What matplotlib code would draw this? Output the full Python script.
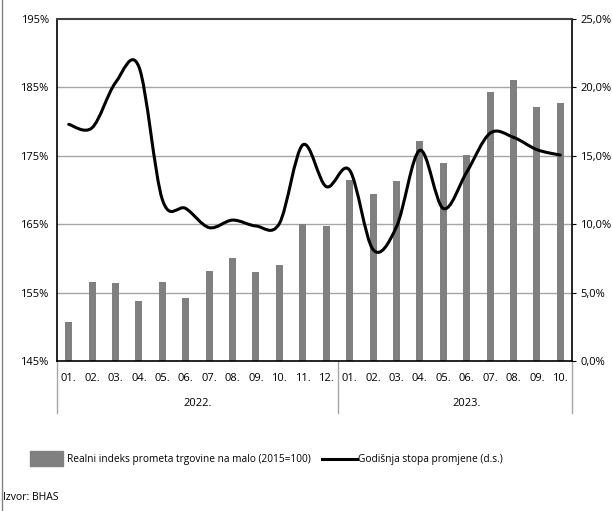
import numpy as np
import matplotlib
matplotlib.use("Agg")
import matplotlib.pyplot as plt
from matplotlib.path import Path
from matplotlib.patches import PathPatch, Rectangle
from matplotlib.lines import Line2D
import matplotlib.transforms as mtransforms

plt.rcParams['font.family'] = ['Open Sans', 'DejaVu Sans']

# podaci
mjeseci = ["01.", "02.", "03.", "04.", "05.", "06.", "07.", "08.", "09.", "10.", "11.", "12.",
           "01.", "02.", "03.", "04.", "05.", "06.", "07.", "08.", "09.", "10."]
godine = ["2022.", "2023."]
indeks = [150.7, 156.6, 156.4, 153.7, 156.5, 154.2, 158.2, 160.0, 158.0, 159.0, 165.1, 164.8,
          171.5, 169.4, 171.3, 177.1, 173.9, 175.1, 184.3, 186.1, 182.1, 182.7]
stopa = [17.3, 17.05, 20.35, 21.5, 11.8, 11.15, 9.75, 10.3, 9.87, 10.05, 15.8, 12.75,
         13.95, 8.15, 9.8, 15.4, 11.15, 13.8, 16.65, 16.35, 15.45, 15.05]

W, H = 612, 511
fig = plt.figure(figsize=(W / 100, H / 100), dpi=100)
L, R, T, B = 57, 572, 19, 361
ax = fig.add_axes([L / W, 1 - B / H, (R - L) / W, (B - T) / H])

x = np.arange(len(indeks))
ax.bar(x, np.array(indeks) - 145, bottom=145, width=0.3, color="#808080", zorder=2)
ax.set_xlim(-0.5, len(indeks) - 0.5)
ax.set_ylim(145, 195)
ax.set_yticks(np.arange(145, 196, 10))
ax.set_yticklabels([f"{v}%" for v in range(145, 196, 10)], fontsize=8)
ax.tick_params(axis='y', length=0, pad=6)
ax.set_xticks([])
for v in range(155, 195, 10):
    ax.axhline(v, color="#a6a6a6", lw=1, zorder=1)
for s in ['left', 'bottom', 'right']:
    ax.spines[s].set_color("black")
    ax.spines[s].set_linewidth(1.2)
ax.spines['top'].set_color("#404040")
ax.spines['top'].set_linewidth(1.5)

ax2 = ax.twinx()
ax2.set_ylim(0, 25)
ax2.set_yticks(np.arange(0, 26, 5))
ax2.set_yticklabels([f"{v},0%" for v in range(0, 26, 5)], fontsize=8)
ax2.tick_params(axis='y', length=3, pad=3)
for s in ax2.spines.values():
    s.set_visible(False)

# zaglađena linija (Catmull-Rom -> Bezier)
pts = np.column_stack([x, stopa]).astype(float)
verts = [tuple(pts[0])]
codes = [Path.MOVETO]
n = len(pts)
for i in range(n - 1):
    p0 = pts[max(i - 1, 0)]
    p1 = pts[i]
    p2 = pts[i + 1]
    p3 = pts[min(i + 2, n - 1)]
    c1 = p1 + (p2 - p0) / 6
    c2 = p2 - (p3 - p1) / 6
    verts += [tuple(c1), tuple(c2), tuple(p2)]
    codes += [Path.CURVE4] * 3
ax2.add_patch(PathPatch(Path(verts, codes), fill=False, edgecolor="black", lw=2.2,
                        capstyle='round', joinstyle='round', zorder=3))

# kategorije
trans = mtransforms.blended_transform_factory(ax.transData, ax.transAxes)
for i, m in enumerate(mjeseci):
    ax.text(i, -17 / 342, m, transform=trans, ha='center', va='center', fontsize=8)
ax.text(5.5, -42 / 342, godine[0], transform=trans, ha='center', va='center', fontsize=8)
ax.text(17.0, -42 / 342, godine[1], transform=trans, ha='center', va='center', fontsize=8)
for xs in [-0.5, 11.5, len(indeks) - 0.5]:
    ax.add_line(Line2D([xs, xs], [0, -52 / 342], transform=trans, color="#a6a6a6",
                       lw=1, clip_on=False))

# legenda
fig.add_artist(Rectangle((30 / W, 1 - 466 / H), 33 / W, 15 / H, transform=fig.transFigure,
                         color="#808080"))
fig.text(67 / W, 1 - 459 / H, "Realni indeks prometa trgovine na malo (2015=100)",
         fontsize=7.3, va='center')
fig.add_artist(Line2D([322 / W, 357 / W], [1 - 459 / H, 1 - 459 / H], transform=fig.transFigure,
                      color="black", lw=2.2))
fig.text(358 / W, 1 - 459 / H, "Godišnja stopa promjene (d.s.)", fontsize=7.3, va='center')

fig.text(3 / W, 1 - 497 / H, "Izvor: BHAS", fontsize=7.5, va='center')
fig.add_artist(Line2D([2 / W, 2 / W], [0, 1], transform=fig.transFigure, color="#808080", lw=1))

fig.savefig("out.png", dpi=100)
